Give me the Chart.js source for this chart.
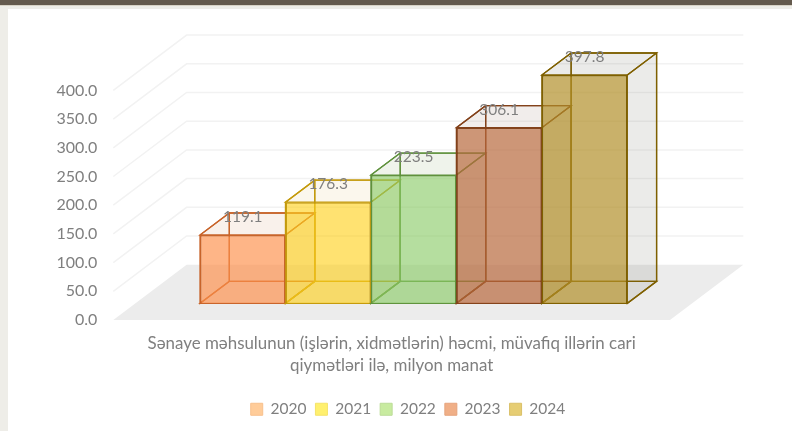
<!DOCTYPE html>
<html lang="az">
<head>
<meta charset="UTF-8">
<title>Sənaye məhsulu</title>
<script src="https://cdn.jsdelivr.net/npm/chart.js"></script>
<style>
	html, body {margin: 0; padding: 0; width: 792px; height: 431px; overflow: hidden; background: #eeede8;}
	#band {position: absolute; left: 0; top: 0; width: 792px; height: 5px; background: #645a4e; border-bottom: 1px solid #d8d3c6;}
	#card {position: absolute; left: 8px; top: 9px; width: 784px; height: 422px; background: #fff;}
</style>
</head>
<body>
<div id="band"></div>
<div id="card"><canvas id="myChart" width="784" height="422"></canvas></div>

<script>
var categories = [['Sənaye məhsulunun (işlərin, xidmətlərin) həcmi, müvafiq illərin cari', 'qiymətləri ilə, milyon manat']];
var years = ['2020', '2021', '2022', '2023', '2024'];
var values = [119.1, 176.3, 223.5, 306.1, 397.8];

var frontFill = ['rgba(255,145,75,0.65)', 'rgba(255,210,30,0.62)', 'rgba(140,205,105,0.62)', 'rgba(185,105,60,0.68)', 'rgba(180,145,40,0.68)'];
var sideFill = ['rgba(200,110,50,0.05)', 'rgba(200,160,30,0.04)', 'rgba(90,130,60,0.05)', 'rgba(120,80,50,0.05)', 'rgba(90,80,60,0.06)'];
var edgeColor = ['#c8642a', '#c49a0c', '#5f913c', '#83421b', '#7f6000'];
var legendFill = ['#ffcc99', '#fff06e', '#c8eba0', '#f0af87', '#e6cd73'];
var legendEdge = ['#f8c08c', '#f5e36a', '#bcdc98', '#e6a47e', '#dac068'];

var textColor = '#7f7f7f';
var fontName = 'Lato';
var depthBar = {x: 29.3, y: -22};
var depthWall = {x: 73.3, y: -55.3};
var floorOverhang = 44;

// the floor, back wall lines and bar sides are drawn around the library's own bars
var box3d = {
	id: 'box3d',
	beforeDatasetsDraw: function(chart) {
		var c = chart.ctx, a = chart.chartArea, y = chart.scales.y;
		var fl = a.left - floorOverhang;
		c.save();
		c.fillStyle = '#ececec';
		c.beginPath();
		c.moveTo(fl, a.bottom);
		c.lineTo(fl + depthWall.x, a.bottom + depthWall.y);
		c.lineTo(a.right + depthWall.x, a.bottom + depthWall.y);
		c.lineTo(a.right, a.bottom);
		c.closePath();
		c.fill();
		c.strokeStyle = '#f2f2f2';
		c.lineWidth = 1.5;
		y.ticks.forEach(function(t) {
			if (t.value === 0) return;
			var py = y.getPixelForValue(t.value);
			c.beginPath();
			c.moveTo(fl, py);
			c.lineTo(fl + depthWall.x, py + depthWall.y);
			c.lineTo(a.right + depthWall.x, py + depthWall.y);
			c.stroke();
		});
		chart.data.datasets.forEach(function(ds, i) {
			var b = chart.getDatasetMeta(i).data[0];
			var l = b.x - b.width / 2, r = b.x + b.width / 2, t = b.y, f = b.base;
			var dx = depthBar.x, dy = depthBar.y;
			var faces = [
				[[l + dx, t + dy], [r + dx, t + dy], [r + dx, f + dy], [l + dx, f + dy]],
				[[l, f], [r, f], [r + dx, f + dy], [l + dx, f + dy]],
				[[l, t], [l + dx, t + dy], [l + dx, f + dy], [l, f]],
				[[r, t], [r + dx, t + dy], [r + dx, f + dy], [r, f]],
				[[l, t], [r, t], [r + dx, t + dy], [l + dx, t + dy]]
			];
			c.fillStyle = sideFill[i];
			c.strokeStyle = edgeColor[i];
			c.lineWidth = 1.3;
			faces.forEach(function(pts) {
				c.beginPath();
				pts.forEach(function(p, n) { n ? c.lineTo(p[0], p[1]) : c.moveTo(p[0], p[1]); });
				c.closePath();
				c.fill();
				c.stroke();
			});
		});
		c.restore();
	},
	afterDatasetsDraw: function(chart) {
		var c = chart.ctx;
		c.save();
		c.fillStyle = textColor;
		c.font = '15.5px ' + fontName;
		c.textAlign = 'center';
		c.textBaseline = 'middle';
		chart.data.datasets.forEach(function(ds, i) {
			var b = chart.getDatasetMeta(i).data[0];
			c.fillText(ds.data[0].toFixed(1), b.x, b.y - 18);
		});
		c.restore();
	}
};

var myChart = new Chart(document.getElementById('myChart').getContext('2d'), {
	type: 'bar',
	data: {
		labels: categories,
		datasets: years.map(function(year, i) {
			return {
				label: year,
				data: [values[i]],
				xAxisID: 'x',
				yAxisID: 'yBar',
				backgroundColor: frontFill[i],
				borderColor: edgeColor[i],
				borderWidth: 1.5,
				barPercentage: 1,
				categoryPercentage: 0.8334
			};
		})
	},
	options: {
		responsive: false,
		animation: false,
		layout: {padding: {left: 16, top: 26, bottom: 4}},
		plugins: {
			tooltip: {enabled: false},
			legend: {
				position: 'bottom',
				labels: {
					boxWidth: 12,
					boxHeight: 12,
					padding: 9,
					color: textColor,
					font: {family: fontName, size: 15.5},
					generateLabels: function(chart) {
						return chart.data.datasets.map(function(ds, i) {
							return {text: ds.label, fillStyle: legendFill[i], strokeStyle: legendEdge[i], lineWidth: 1, datasetIndex: i, fontColor: textColor};
						});
					}
				}
			}
		},
		scales: {
			x: {
				grid: {display: false},
				border: {display: false},
				afterFit: function(s) { s.height = 72.5; s.paddingLeft = 0; s.paddingRight = 0; },
				ticks: {
					color: textColor,
					font: {family: fontName, size: 16.9, lineHeight: 1.3},
					maxRotation: 0,
					autoSkip: false,
					padding: 5,
					labelOffset: -22
				}
			},
			y: {
				position: 'left',
				min: 0,
				max: 496.5,
				grid: {display: false},
				border: {display: false},
				afterFit: function(s) { s.width = 133.3; s.paddingTop = 0; s.paddingBottom = 0; },
				afterBuildTicks: function(s) {
					s.ticks = s.ticks.filter(function(t) { return t.value <= 400; });
				},
				ticks: {
					stepSize: 50,
					autoSkip: false,
					padding: 52,
					color: textColor,
					font: {family: fontName, size: 16},
					callback: function(v) { return v.toFixed(1); }
				}
			},
			yBar: {
				position: 'right',
				min: -29,
				max: 467.5,
				grid: {display: false},
				border: {display: false},
				ticks: {display: false},
				afterFit: function(s) { s.width = 122; }
			}
		}
	},
	plugins: [box3d]
});
</script>
</body>
</html>
